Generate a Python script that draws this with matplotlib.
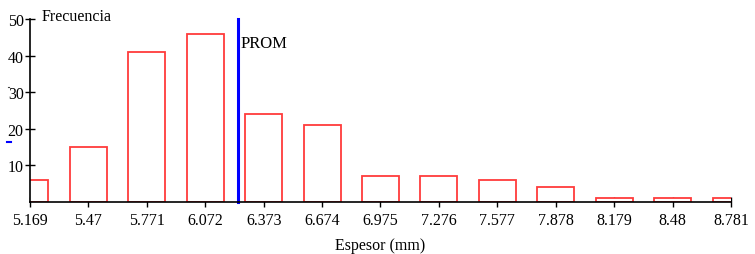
import matplotlib
matplotlib.use("Agg")
import matplotlib.pyplot as plt
from matplotlib.lines import Line2D
import numpy as np

bin_centers = [5.169, 5.47, 5.771, 6.072, 6.373, 6.674, 6.975, 7.276, 7.577, 7.878, 8.179, 8.48, 8.781]
freqs = [6, 15, 41, 46, 24, 21, 7, 7, 6, 4, 1, 1, 1]
tick_labels = ["5.169", "5.47", "5.771", "6.072", "6.373", "6.674", "6.975", "7.276", "7.577", "7.878", "8.179", "8.48", "8.781"]
prom = 6.241
yticks = [10, 20, 30, 40, 50]

plt.rcParams['font.family'] = ['Liberation Serif', 'DejaVu Serif']

fig = plt.figure(figsize=(7.55, 2.55), dpi=100)
ax = fig.add_axes([30/755, 1-203/255, (731-30)/755, (203-20)/255])

ax.bar(bin_centers, freqs, width=0.19, facecolor='white', edgecolor='#ff3b3b', linewidth=1.3, zorder=2)
ax.plot([prom, prom], [0, 50], color='#0000ff', linewidth=2.2, zorder=3, clip_on=False)
ax.text(prom + 0.015, 43.5, "PROM", fontsize=12, va='center', ha='left')

ax.set_xlim(5.169, 8.781)
ax.set_ylim(0, 50)
ax.set_xticks(bin_centers)
ax.set_xticklabels(tick_labels, fontsize=11.5)
ax.set_yticks(yticks)
ax.set_yticklabels([str(v) for v in yticks], fontsize=11.5)
ax.tick_params(axis='x', direction='inout', length=7, width=1, color='black', pad=4)
ax.tick_params(axis='y', direction='inout', length=7, width=1, color='black', pad=1)
for s in ['top', 'right']:
    ax.spines[s].set_visible(False)
for s in ['left', 'bottom']:
    ax.spines[s].set_linewidth(1.2)
    ax.spines[s].set_zorder(4)

fig.text(42/755, 1-17/255, "Frecuencia", fontsize=11.5, va='center', ha='left')
ax.set_xlabel("Espesor (mm)", fontsize=11.5, labelpad=6)

# small stray marks present in the reference image
fig.add_artist(Line2D([7/755, 11/755], [1-143/255, 1-143/255], color='#0000ff', linewidth=1.5))
fig.add_artist(Line2D([8/755, 9/755], [1-88/255, 1-88/255], color='#444444', linewidth=0.8))

fig.savefig("out.png", dpi=100)
